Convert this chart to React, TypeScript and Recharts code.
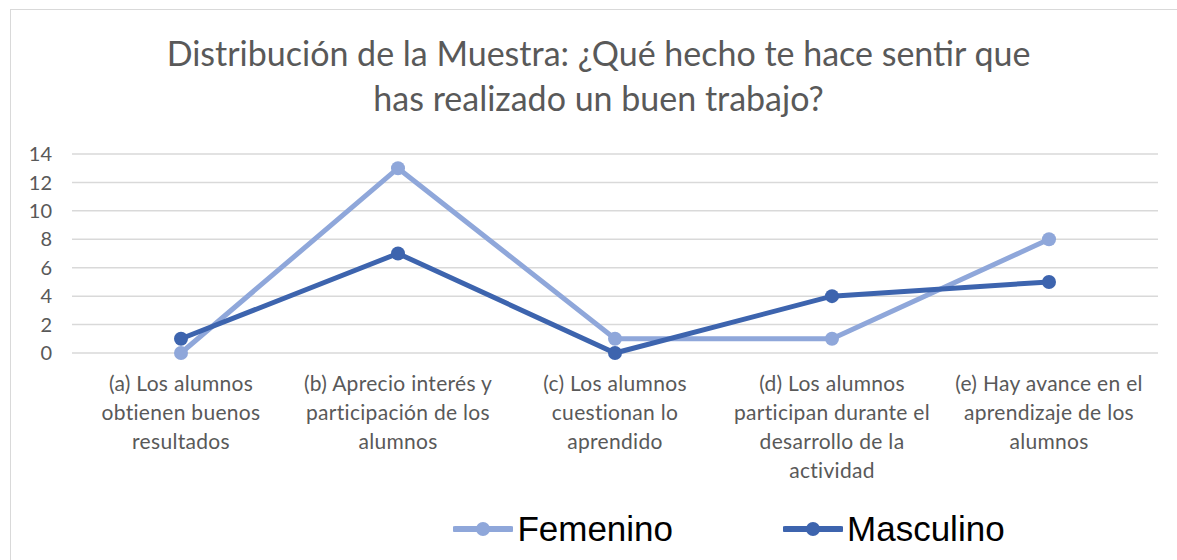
import React from 'react';
import { LineChart, Line, XAxis, YAxis, CartesianGrid, Legend } from 'recharts';

const categories: string[][] = [
  ['(a) Los alumnos', 'obtienen buenos', 'resultados'],
  ['(b) Aprecio interés y', 'participación de los', 'alumnos'],
  ['(c) Los alumnos', 'cuestionan lo', 'aprendido'],
  ['(d) Los alumnos', 'participan durante el', 'desarrollo de la', 'actividad'],
  ['(e) Hay avance en el', 'aprendizaje de los', 'alumnos'],
];
const femenino = [0, 13, 1, 1, 8];
const masculino = [1, 7, 0, 4, 5];
const yTicks = [0, 2, 4, 6, 8, 10, 12, 14];
const titleLines = ['Distribución de la Muestra: ¿Qué hecho te hace sentir que', 'has realizado un buen trabajo?'];

const FEM = '#8FA7DA';
const MAS = '#3D64AE';
const FONT = 'Lato, "Open Sans", sans-serif';

const data = categories.map((c, i) => ({
  key: String(i),
  lines: c,
  Femenino: femenino[i],
  Masculino: masculino[i],
}));

const XTick = (props: any) => {
  const { x, y, payload } = props;
  const lines = categories[Number(payload.value)] || [];
  return (
    <text x={x} y={y} textAnchor="middle" fill="#595959" fontSize={21} fontFamily={FONT} letterSpacing={0.3}>
      {lines.map((l, i) => (
        <tspan key={i} x={x} dy={i === 0 ? 30 : 29}>{l}</tspan>
      ))}
    </text>
  );
};

const LegendContent = () => {
  const items = [
    { name: 'Femenino', color: FEM },
    { name: 'Masculino', color: MAS },
  ];
  return (
    <div style={{ display: 'flex', justifyContent: 'center', alignItems: 'center', gap: 110, paddingLeft: 290, paddingTop: 7 }}>
      {items.map((it) => (
        <div key={it.name} style={{ display: 'flex', alignItems: 'center' }}>
          <svg width={60} height={20}>
            <line x1={2} y1={10} x2={58} y2={10} stroke={it.color} strokeWidth={6} strokeLinecap="round" />
            <circle cx={30} cy={10} r={7} fill={it.color} />
          </svg>
          <span style={{ fontFamily: 'Arial, "Liberation Sans", sans-serif', fontSize: 35, color: '#000', marginLeft: 4 }}>{it.name}</span>
        </div>
      ))}
    </div>
  );
};

export default function App() {
  return (
    <div style={{ position: 'absolute', left: 0, top: 0, width: 1177, height: 560, background: '#fff', overflow: 'hidden' }}>
      <div style={{ position: 'absolute', left: 10, top: 9, width: 1200, height: 600, border: '1px solid #D9D9D9', boxSizing: 'border-box' }} />
      <div style={{ position: 'absolute', left: 0, top: 30, width: 1197, textAlign: 'center', fontFamily: FONT, fontSize: 34, color: '#595959', lineHeight: '45px' }}>
        {titleLines.map((t, i) => (<div key={i}>{t}</div>))}
      </div>
      <div style={{ position: 'absolute', left: 0, top: 0 }}>
        <LineChart width={1177} height={560} data={data} margin={{ top: 154, right: 19, bottom: 8, left: 10 }}>
          <CartesianGrid vertical={false} stroke="#D9D9D9" strokeWidth={1.5} />
          <XAxis dataKey="key" axisLine={false} tickLine={false} tick={<XTick />} height={149} interval={0} padding={{ left: 109, right: 109 }} />
          <YAxis domain={[0, 14]} ticks={yTicks} axisLine={false} tickLine={false} width={62}
            tick={{ fill: '#595959', fontSize: 20, fontFamily: FONT }} tickMargin={14} />
          <Legend verticalAlign="bottom" height={50} content={<LegendContent />} />
          <Line dataKey="Femenino" stroke={FEM} strokeWidth={5} dot={{ r: 7, fill: FEM, stroke: FEM, strokeWidth: 0 }} isAnimationActive={false} />
          <Line dataKey="Masculino" stroke={MAS} strokeWidth={5} dot={{ r: 7, fill: MAS, stroke: MAS, strokeWidth: 0 }} isAnimationActive={false} />
        </LineChart>
      </div>
    </div>
  );
}
